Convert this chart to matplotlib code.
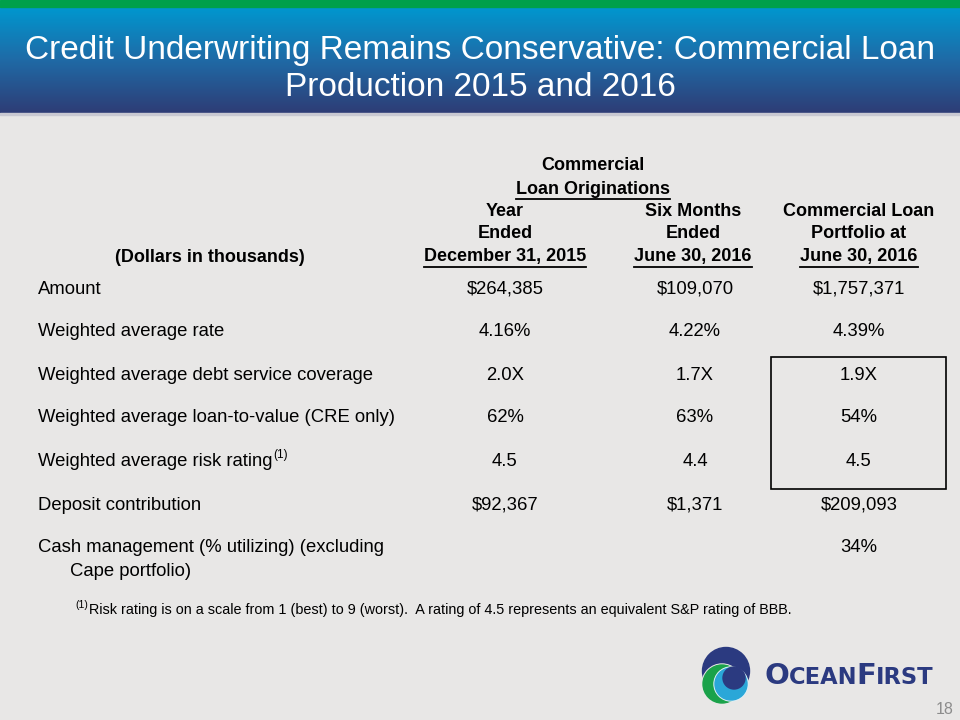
import matplotlib.pyplot as plt
import numpy as np
from matplotlib import font_manager
from matplotlib.patches import Rectangle, Circle
from matplotlib.colors import LinearSegmentedColormap

# table contents
title_lines = ["Credit Underwriting Remains Conservative: Commercial Loan",
               "Production 2015 and 2016"]
row_labels = ["Amount",
              "Weighted average rate",
              "Weighted average debt service coverage",
              "Weighted average loan-to-value (CRE only)",
              "Weighted average risk rating",
              "Deposit contribution",
              "Cash management (% utilizing) (excluding"]
year_2015 = ["$264,385", "4.16%", "2.0X", "62%", "4.5", "$92,367", ""]
six_months_2016 = ["$109,070", "4.22%", "1.7X", "63%", "4.4", "$1,371", ""]
portfolio_2016 = ["$1,757,371", "4.39%", "1.9X", "54%", "4.5", "$209,093", "34%"]
footnote = "Risk rating is on a scale from 1 (best) to 9 (worst).  A rating of 4.5 represents an equivalent S&P rating of BBB."

names = {f.name for f in font_manager.fontManager.ttflist}
narrow = "Liberation Sans Narrow" if "Liberation Sans Narrow" in names else "Liberation Sans"
plt.rcParams['font.family'] = ['Liberation Sans', 'DejaVu Sans']

bg = '#e8e7e6'
fig = plt.figure(figsize=(9.6, 7.2), dpi=100)
fig.patch.set_facecolor(bg)
ax = fig.add_axes([0, 0, 1, 1])
ax.axis('off')

# title bar
grad = LinearSegmentedColormap.from_list('bar', ['#0097cf', '#1f6aa6', '#2e3d76'])
ax.imshow(np.linspace(0, 1, 100).reshape(-1, 1), cmap=grad, aspect='auto',
          extent=(0, 960, 113, 7), zorder=1)
ax.set_xlim(0, 960)
ax.set_ylim(720, 0)
ax.add_patch(Rectangle((0, 0), 960, 7, color='#00a04a', zorder=2))
ax.add_patch(Rectangle((0, 113), 960, 2, color='#c9c9d2', zorder=2))
ax.text(480, 50, title_lines[0], color='white', fontsize=24, ha='center', va='center', zorder=3)
ax.text(480, 88, title_lines[1], color='white', fontsize=24, ha='center', va='center', zorder=3)

fig.canvas.draw()
r = fig.canvas.get_renderer()
inv = ax.transData.inverted()


def extent(t):
    bb = t.get_window_extent(r)
    (x0, y0), (x1, y1) = inv.transform([(bb.x0, bb.y0), (bb.x1, bb.y1)])
    return x0, x1, y0, y1


# header
hdr = dict(family=narrow, fontsize=13, fontweight='bold', ha='center', va='center', color='black')
underlined = []
ax.text(593, 166, "Commercial", **hdr)
underlined.append(ax.text(593, 189, "Loan Originations", **hdr))
for x, lines in [(505, ["Year", "Ended", "December 31, 2015"]),
                 (693, ["Six Months", "Ended", "June 30, 2016"]),
                 (859, ["Commercial Loan", "Portfolio at", "June 30, 2016"])]:
    ax.text(x, 212, lines[0], **hdr)
    ax.text(x, 234, lines[1], **hdr)
    underlined.append(ax.text(x, 257, lines[2], **hdr))
ax.text(210, 257, "(Dollars in thousands)", **hdr)

for t in underlined:
    x0, x1, y0, y1 = extent(t)
    ax.plot([x0, x1], [y0 + 1, y0 + 1], color='black', lw=1.3)

# rows
body = dict(fontsize=13.3, va='center', color='black')
ys = [289, 332, 375, 418, 462, 505, 548]
for i, y in enumerate(ys):
    t = ax.text(38, y, row_labels[i], ha='left', **body)
    ax.text(505, y, year_2015[i], ha='center', **body)
    ax.text(695, y, six_months_2016[i], ha='center', **body)
    ax.text(859, y, portfolio_2016[i], ha='center', **body)
    if i == 4:
        x0, x1, y0, y1 = extent(t)
        ax.text(x1 + 0.5, y - 7, "(1)", fontsize=8.5, ha='left', va='center')
ax.text(70, 571, "Cape portfolio)", ha='left', **body)

ax.add_patch(Rectangle((771, 357), 175, 132, fill=False, ec='black', lw=1.2))

# footnote
ax.text(75, 605, "(1)", fontsize=7.5, ha='left', va='center')
ax.text(89, 610, footnote, fontsize=10.4, ha='left', va='center')

# logo mark
navy = '#2b3a80'
ax.add_patch(Circle((726, 671), 23.5, color=navy, zorder=3))
ax.add_patch(Circle((722, 684), 20, color=bg, zorder=4))
ax.add_patch(Circle((722, 684), 19, color='#1aa24a', zorder=5))
ax.add_patch(Circle((731, 684), 17, color='#dfeff5', zorder=6))
ax.add_patch(Circle((731, 684), 16, color='#2aa7d8', zorder=7))
ax.add_patch(Circle((734, 678), 11, color=navy, zorder=8))

# logo word mark
logo = dict(color=navy, fontweight='bold', va='baseline', ha='left', family='DejaVu Sans', zorder=9)
xs = 764
for s, size in [("O", 21), ("CEAN", 16.3), ("F", 21), ("IRST", 16.3)]:
    t = ax.text(xs, 684, s, fontsize=size, **logo)
    xs = extent(t)[1] - 0.5

ax.text(945, 709, "18", fontsize=11.5, color='#8c8c8c', ha='center', va='center')

fig.savefig('out.png', dpi=100, facecolor=fig.get_facecolor())
